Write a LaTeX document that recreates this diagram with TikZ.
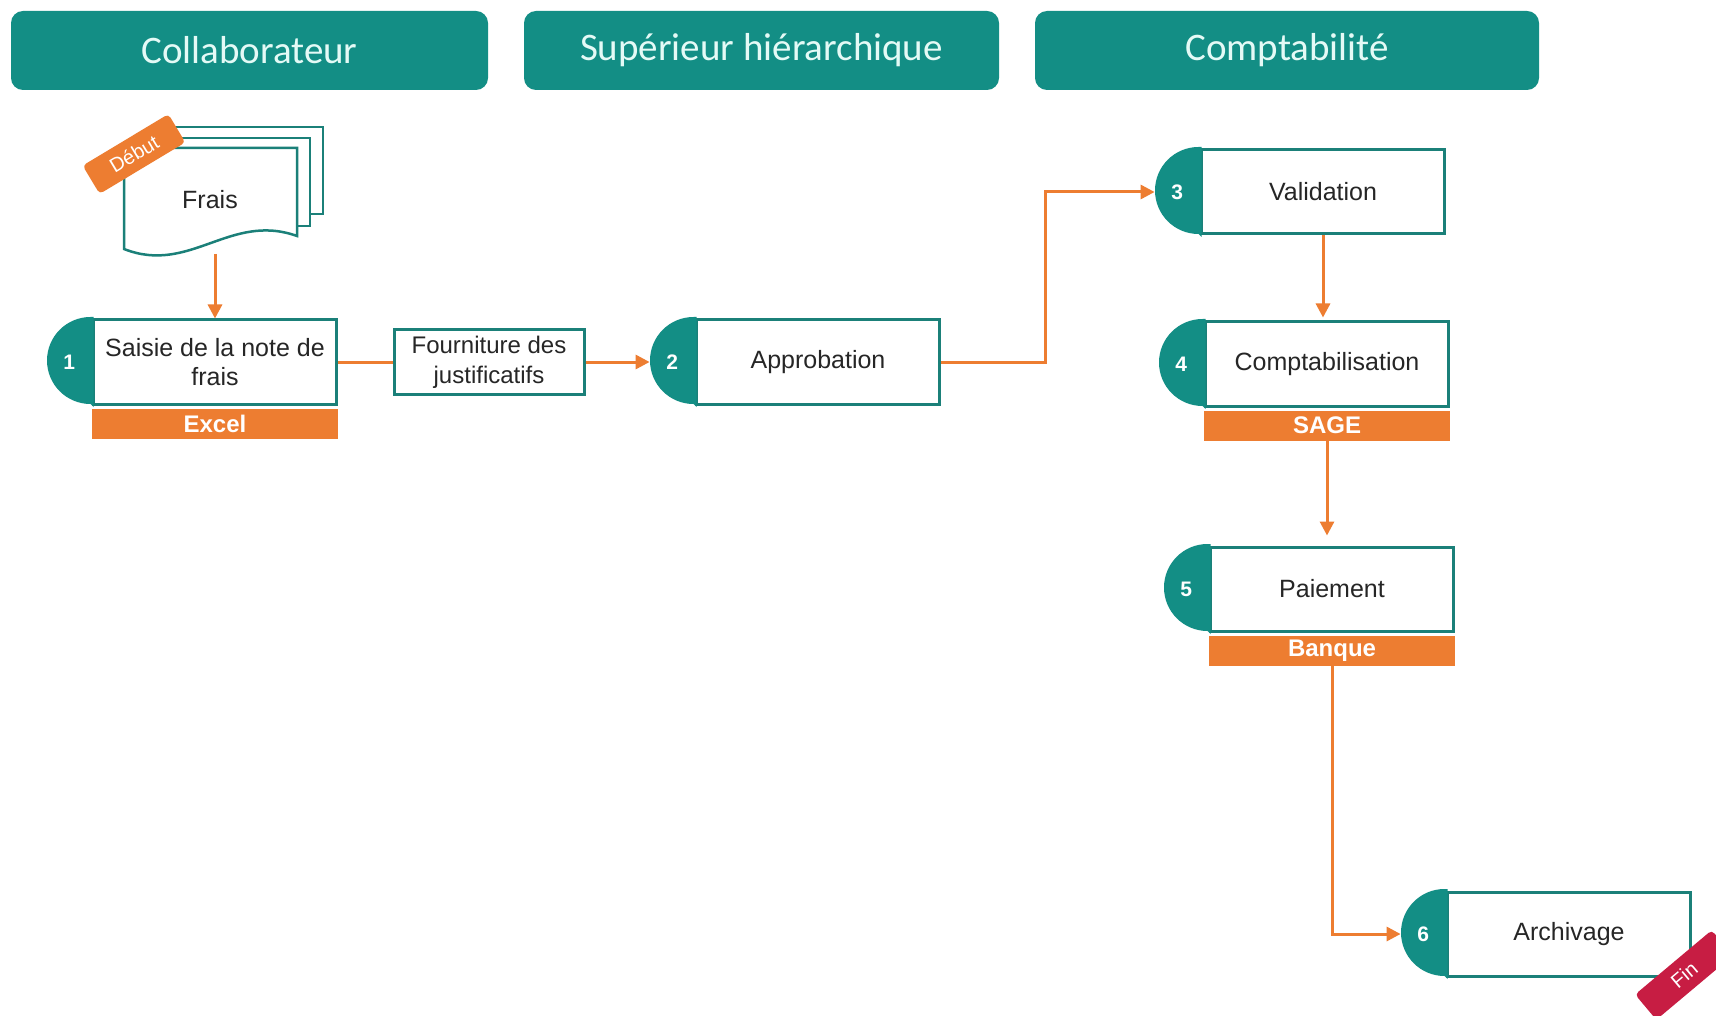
\documentclass[tikz,border=0pt]{standalone}
\usepackage{fontspec}
\setmainfont{Liberation Sans}
\newfontfamily\entetefont{Carlito}
\usetikzlibrary{positioning,arrows.meta}

\definecolor{sarcelle}{RGB}{19,142,133}
\definecolor{bordure}{RGB}{27,128,121}
\definecolor{orangef}{RGB}{237,125,49}
\definecolor{carmin}{RGB}{199,29,67}
\definecolor{texte}{RGB}{38,38,38}

\tikzset{
  entete/.style={fill=sarcelle, rounded corners=12pt, minimum height=79pt, text={rgb,255:red,228;green,250;blue,246}, font=\entetefont\fontsize{39}{44}\selectfont},
  etape/.style={draw=bordure, line width=3pt, fill=white, minimum width=243pt, minimum height=84pt, inner sep=0pt, align=center, text=texte, font=\fontsize{25}{29}\selectfont},
  numero/.style={minimum width=45pt, minimum height=87pt, inner sep=0pt, text=white, font=\bfseries\fontsize{21}{25}\selectfont},
  bande/.style={fill=orangef, minimum width=246pt, minimum height=30pt, inner sep=0pt, text=white, font=\bfseries\fontsize{24}{28}\selectfont},
  fleche/.style={draw=orangef, line width=3pt, -{Triangle[length=14pt,width=14pt]}},
  lien/.style={draw=orangef, line width=3pt},
  page/.style={draw=bordure, line width=2.5pt, fill=white},
  etiquette/.style={fill=#1, rounded corners=4pt, minimum width=100pt, minimum height=33pt, inner sep=0pt, text=white, font=\fontsize{20}{22}\selectfont}
}

\begin{document}
\begin{tikzpicture}[x=1pt, y=-1pt]
  \fill[white] (0,0) rectangle (1716,1016);
  \useasboundingbox (0,0) rectangle (1716,1016);

  \node[entete, minimum width=477pt] (collab) at (249.5,50.5) {Collaborateur};
  \node[entete, minimum width=475pt] (sup) at (761.5,50.5) {Supérieur hiérarchique};
  \node[entete, minimum width=504pt] (compta) at (1287,50.5) {Comptabilité};

  \filldraw[page] (150,127) rectangle (323,214);
  \filldraw[page] (137,138) rectangle (310,226);
  \filldraw[page] (124,148) -- (297,148) -- (297,236) .. controls (230,212) and (190,275) .. (124,249) -- cycle;
  \node[text=texte, font=\fontsize{25}{29}\selectfont] (frais) at (210,200) {Frais};
  \coordinate (fraisbas) at (215,254);
  \node[etiquette=orangef, rotate=31] (debut) at (134,154) {Début};

  \foreach \i/\x/\y/\t in {1/215/362/{Saisie de la note de\\frais}, 2/818/362/Approbation, 3/1323/192/Validation, 4/1327/364/Comptabilisation, 5/1332/589/Paiement, 6/1569/934/Archivage}{
    \node[etape] (s\i) at (\x,\y) {\t};
    \fill[sarcelle] ([shift={(1.5pt,1.5pt)}]s\i.north west) -- ([shift={(-1.5pt,1.5pt)}]s\i.north west) arc[start angle=90, end angle=270, radius=43.5pt] -- ([shift={(1.5pt,-1.5pt)}]s\i.south west) -- cycle;
    \node[numero, anchor=east] (n\i) at (s\i.west) {\i};
  }

  \node[bande, below=3pt of s1] (b1) {Excel};
  \node[bande, below=3pt of s4] (b4) {SAGE};
  \node[bande, below=3pt of s5] (b5) {Banque};

  \node[etape, minimum width=190pt, minimum height=65pt, font=\fontsize{24}{30}\selectfont] (fourn) at (489,362) {Fourniture des\\justificatifs};

  \draw[fleche] (fraisbas) -- (s1.north);
  \draw[lien] (s1.east) -- (fourn.west);
  \draw[fleche] (fourn.east) -- (n2.west);
  \draw[fleche] (s2.east) -- ++(104,0) |- (n3.west);
  \draw[fleche, shorten >=3pt] (s3.south) -- (s3.south |- s4.north);
  \draw[fleche, shorten >=10pt] (b4.south) -- (b4.south |- s5.north);
  \draw[fleche] (b5.south) |- (n6.west);

  \node[etiquette=carmin, rotate=40] (fin) at (1684,975) {Fin};
\end{tikzpicture}
\end{document}
